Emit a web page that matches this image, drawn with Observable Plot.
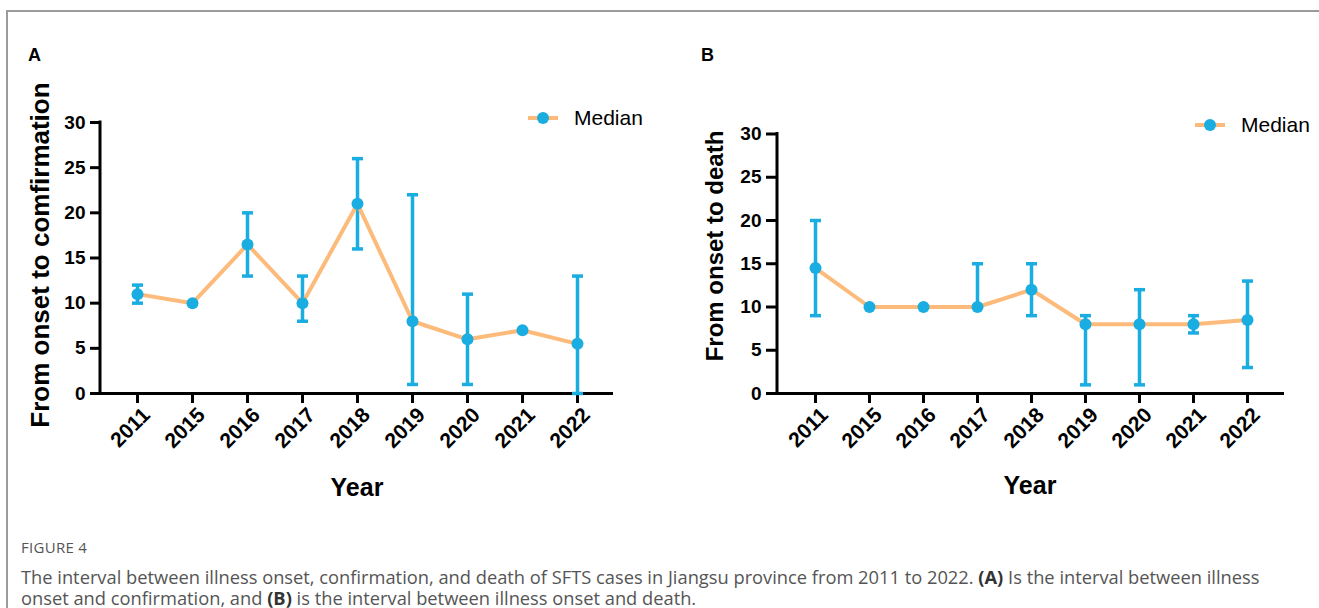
<!DOCTYPE html>
<html>
<head>
<meta charset="utf-8">
<script src="https://cdn.jsdelivr.net/npm/d3@7"></script>
<script src="https://cdn.jsdelivr.net/npm/@observablehq/plot@0.6"></script>
<style>
  html, body { margin: 0; padding: 0; background: #fff; }
  #fig { position: relative; width: 1319px; height: 608px; overflow: hidden; background: #fff; font-family: "Liberation Sans", Arial, sans-serif; }
  .frame-top { position: absolute; left: 6px; top: 10px; right: 0; height: 0; border-top: 2px solid #9b9b9b; }
  .frame-left { position: absolute; left: 6px; top: 10px; bottom: 0; width: 0; border-left: 2px solid #9b9b9b; }
  .panel { position: absolute; top: 0; }
  .plabel { position: absolute; font-weight: bold; font-size: 18px; line-height: 18px; color: #000; }
  .ytitle { position: absolute; transform: translate(-50%, -50%) rotate(-90deg); white-space: nowrap; font-weight: bold; color: #000; }
  .xtitle { position: absolute; transform: translate(-50%, -50%); white-space: nowrap; font-weight: bold; font-size: 25px; color: #000; }
  .legend { position: absolute; display: flex; align-items: center; font-size: 21px; color: #000; transform: translateY(-50%); }
  .legend svg { margin-right: 16px; }
  .caption { position: absolute; left: 21px; font-family: "Open Sans", "Noto Sans", sans-serif; color: #555; white-space: nowrap; }
  .fignum { top: 537px; font-size: 15px; line-height: 20px; letter-spacing: 0.3px; }
  .capline { font-size: 18.3px; line-height: 20px; }
  .capline b { color: #333; }
</style>
</head>
<body>
<div id="fig">
  <div class="frame-top"></div>
  <div class="frame-left"></div>
  <div class="plabel" style="left:28px; top:46px;">A</div>
  <div class="plabel" style="left:701px; top:46px;">B</div>
  <div id="panelA" class="panel" style="left:0px;"></div>
  <div id="panelB" class="panel" style="left:660px;"></div>
  <div class="ytitle" style="left:40px; top:255px; font-size:26px;">From onset to comfirmation</div>
  <div class="ytitle" style="left:715px; top:246px; font-size:24px;">From onset to death</div>
  <div class="xtitle" style="left:357px; top:487px;">Year</div>
  <div class="xtitle" style="left:1030px; top:485px;">Year</div>
  <div id="legendA" class="legend" style="left:528px; top:118px;"></div>
  <div id="legendB" class="legend" style="left:1195px; top:125px;"></div>
  <div class="caption fignum">FIGURE 4</div>
  <div class="caption capline" style="top:567px;">The interval between illness onset, confirmation, and death of SFTS cases in Jiangsu province from 2011 to 2022. <b>(A)</b> Is the interval between illness</div>
  <div class="caption capline" style="top:588px;">onset and confirmation, and <b>(B)</b> is the interval between illness onset and death.</div>
</div>
<script>
// ---- data ----
const years = ["2011", "2015", "2016", "2017", "2018", "2019", "2020", "2021", "2022"];
const yTicks = [0, 5, 10, 15, 20, 25, 30];

// Panel A: from onset to confirmation
const confMedian = [11, 10, 16.5, 10, 21, 8, 6, 7, 5.5];
const confLow    = [10, null, 13, 8, 16, 1, 1, null, 0];
const confHigh   = [12, null, 20, 13, 26, 22, 11, null, 13];

// Panel B: from onset to death
const deathMedian = [14.5, 10, 10, 10, 12, 8, 8, 8, 8.5];
const deathLow    = [9, null, null, 10, 9, 1, 1, 7, 3];
const deathHigh   = [20, null, null, 15, 15, 9, 12, 9, 13];

const BLUE = "#1aade2";
const ORANGE = "#fdbb7b";
const FONT = "Liberation Sans, Arial, sans-serif";

// horizontal-bar symbol used for error-bar caps
const capSymbol = {
  draw(ctx, size) {
    const h = Math.sqrt(size / Math.PI);
    ctx.moveTo(-h, 0);
    ctx.lineTo(h, 0);
  }
};

function rows(med, lo, hi) {
  return years.map((y, i) => ({year: y, median: med[i], low: lo[i], high: hi[i]}));
}

function yAxisLine(index, scales, values, dims) {
  const ns = "http://www.w3.org/2000/svg";
  const l = document.createElementNS(ns, "line");
  const x = dims.marginLeft;
  l.setAttribute("x1", x); l.setAttribute("x2", x);
  l.setAttribute("y1", scales.y(30) - 1.5);
  l.setAttribute("y2", scales.y(0) + 1.5);
  l.setAttribute("stroke", "#000");
  l.setAttribute("stroke-width", 3);
  return l;
}

function panel(data, opts) {
  const bars = data.filter(d => d.low != null && d.high != null);
  const caps = bars.flatMap(d => [{year: d.year, v: d.low}, {year: d.year, v: d.high}]);
  return Plot.plot({
    width: opts.width,
    height: 500,
    marginLeft: opts.marginLeft,
    marginRight: opts.marginRight,
    marginTop: opts.marginTop,
    marginBottom: 107,
    style: {fontFamily: FONT, background: "transparent", overflow: "visible", color: "#000"},
    x: {type: "point", domain: years, padding: opts.padding},
    y: {domain: [0, 30]},
    marks: [
      Plot.axisY({ticks: yTicks, tickSize: opts.tickSize, tickPadding: 5, strokeWidth: 3, fontSize: 19, fontWeight: "bold", label: null, stroke: "#000", fill: "#000"}),
      // x tick marks
      Plot.axisX({tickSize: 10, strokeWidth: 3, text: null, label: null, stroke: "#000"}),
      // x tick labels, rotated
      Plot.axisX({tickSize: 0, tickPadding: 18, tickRotate: -45, dx: 9, fontSize: 21, fontWeight: "bold", label: null, fill: "#000"}),
      Plot.ruleY([0], {stroke: "#000", strokeWidth: 3}),
      yAxisLine,
      Plot.ruleX(bars, {x: "year", y1: "low", y2: "high", stroke: BLUE, strokeWidth: 3.5}),
      Plot.dot(caps, {x: "year", y: "v", symbol: capSymbol, r: 5.5, stroke: BLUE, strokeWidth: 3.5, fill: "none"}),
      Plot.line(data, {x: "year", y: "median", stroke: ORANGE, strokeWidth: 4}),
      Plot.dot(data, {x: "year", y: "median", r: 6, fill: BLUE, stroke: "none"})
    ]
  });
}

document.getElementById("panelA").appendChild(
  panel(rows(confMedian, confLow, confHigh), {width: 660, marginLeft: 100, marginRight: 47, marginTop: 122, padding: 0.66, tickSize: 10})
);
document.getElementById("panelB").appendChild(
  panel(rows(deathMedian, deathLow, deathHigh), {width: 659, marginLeft: 117, marginRight: 35, marginTop: 133.5, padding: 0.645, tickSize: 11})
);

function legend(el) {
  el.innerHTML = `<svg width="30" height="14"><line x1="0" x2="30" y1="7" y2="7" stroke="${ORANGE}" stroke-width="4"/><circle cx="15" cy="7" r="6" fill="${BLUE}"/></svg><span>Median</span>`;
}
legend(document.getElementById("legendA"));
legend(document.getElementById("legendB"));
</script>
</body>
</html>
